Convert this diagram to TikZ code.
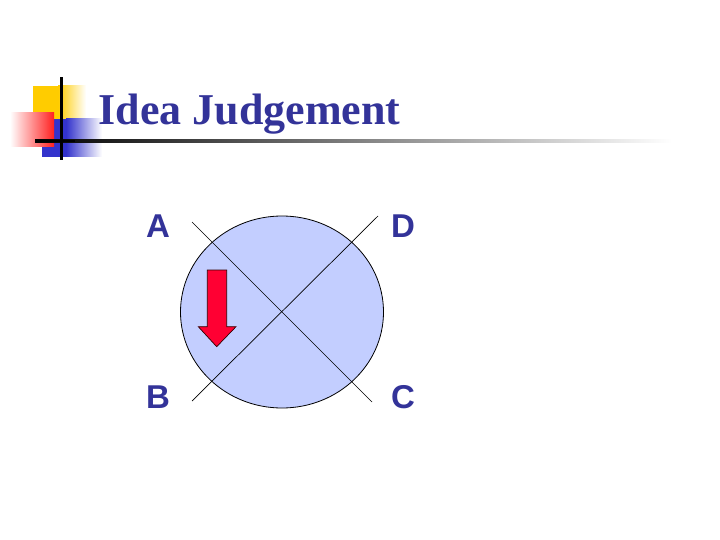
\documentclass[tikz,border=0pt]{standalone}
\usepackage{fontspec}
\setmainfont{Liberation Serif}
\newfontfamily\labelfont{Liberation Sans}
\usetikzlibrary{shapes.geometric}
\definecolor{titleblue}{HTML}{333399}
\definecolor{discblue}{HTML}{C3CEFF}
\definecolor{arrowred}{HTML}{FF0033}
\definecolor{decoyellow}{HTML}{FFCC00}
\definecolor{decoblue}{HTML}{3333CC}
\definecolor{decored}{HTML}{FF2020}
\tikzset{
  quadlabel/.style={font=\labelfont\bfseries\fontsize{33}{38}\selectfont, text=titleblue, inner sep=0pt, anchor=base west},
  crossline/.style={draw=black, line width=0.7pt},
  disc/.style={ellipse, draw=black, line width=0.8pt, fill=discblue, minimum width=203pt, minimum height=192pt, inner sep=0pt},
}
\begin{document}
\begin{tikzpicture}[x=1pt,y=-1pt]
\useasboundingbox (0,0) rectangle (720,540);
\fill[white] (0,0) rectangle (720,540);
% decoration
\fill[decoyellow] (33,86) rectangle (58,119);
\shade[left color=decoyellow, right color=white] (58,86) rectangle (86,119);
\fill[decoblue] (42,119) rectangle (66,157);
\shade[left color=decoblue, right color=white] (66,119) rectangle (102,157);
\shade[left color=white, right color=decored] (10,113) rectangle (54,147);
\shade[left color=black, middle color=black!35, right color=white] (35,139.8) rectangle (672,142.4);
\fill[black] (35,139.8) rectangle (75,142.4);
\fill[black] (60,77) rectangle (62.6,160);
% title
\node[font=\bfseries\fontsize{44}{50}\selectfont, text=titleblue, inner sep=0pt, anchor=base west] (title) at (98.5,125) {Idea Judgement};
% disc
\node[disc] (disc) at (282,312) {};
\coordinate (l1a) at (192,222);
\coordinate (l1b) at (372,402);
\coordinate (l2a) at (378,216);
\coordinate (l2b) at (192,401);
\draw[crossline] (l1a) -- (l1b);
\draw[crossline] (l2a) -- (l2b);
% arrow
\filldraw[fill=arrowred, draw=black!80!red, line width=0.7pt]
  (207.3,270) -- (226.7,270) -- (226.7,326.7) -- (236,326.7) -- (216.7,346.7)
  -- (198.3,326.7) -- (207.3,326.7) -- cycle;
% labels
\node[quadlabel] (A) at (146,237) {A};
\node[quadlabel] (D) at (391,237) {D};
\node[quadlabel] (B) at (146,408) {B};
\node[quadlabel] (C) at (391,408) {C};
\end{tikzpicture}
\end{document}
